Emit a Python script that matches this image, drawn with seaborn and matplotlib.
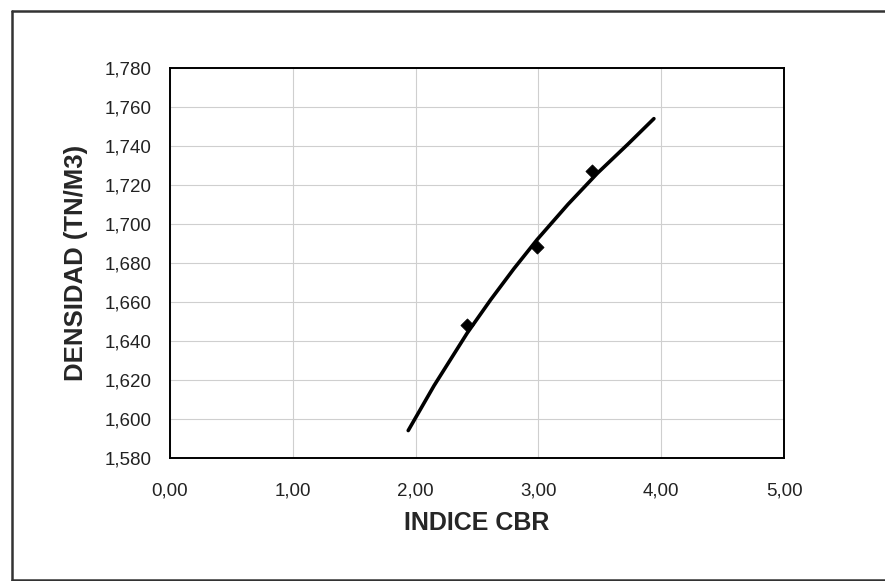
import matplotlib
matplotlib.use("Agg")
import matplotlib.pyplot as plt
from matplotlib.ticker import FuncFormatter, MultipleLocator
from matplotlib.lines import Line2D
import seaborn as sns
import pandas as pd

# ensayos CBR (puntos medidos)
cbr_puntos = [2.42, 2.99, 3.44]
densidad_puntos = [1.648, 1.688, 1.727]

# curva de ajuste
cbr_curva = [1.94, 2.15, 2.42, 2.61, 2.80, 2.99, 3.24, 3.48, 3.73, 3.94]
densidad_curva = [1.594, 1.617, 1.644, 1.661, 1.677, 1.692, 1.710, 1.726, 1.741, 1.754]

sns.set_style("white")
plt.rcParams['font.family'] = ['Liberation Sans', 'DejaVu Sans']

fig = plt.figure(figsize=(8.85, 5.81), dpi=100)
ax = fig.add_axes([0.192, 0.212, 0.694, 0.671])

df_curva = pd.DataFrame({"cbr": cbr_curva, "dens": densidad_curva})
df_puntos = pd.DataFrame({"cbr": cbr_puntos, "dens": densidad_puntos})

sns.lineplot(data=df_curva, x="cbr", y="dens", color="black", linewidth=2.6,
             sort=True, ax=ax, zorder=3)
sns.scatterplot(data=df_puntos, x="cbr", y="dens", marker="D", color="black",
                s=45, edgecolor="black", ax=ax, zorder=4)

ax.set_xlim(0, 5)
ax.set_ylim(1.58, 1.78)
ax.xaxis.set_major_locator(MultipleLocator(1))
ax.yaxis.set_major_locator(MultipleLocator(0.02))
ax.xaxis.set_major_formatter(FuncFormatter(lambda v, p: f"{v:.2f}".replace(".", ",")))
ax.yaxis.set_major_formatter(FuncFormatter(lambda v, p: f"{v:.3f}".replace(".", ",")))

ax.grid(True, color="#cfcfcf", linewidth=0.8)
for s in ax.spines.values():
    s.set_color("black")
    s.set_linewidth(1.4)
ax.tick_params(axis="both", direction="out", length=4, width=0.8, color="#888888",
               labelsize=13.5, labelcolor="#222222")
ax.tick_params(axis="y", pad=9)
ax.tick_params(axis="x", pad=14)

ax.set_xlabel("INDICE CBR", fontsize=18, fontweight="bold", labelpad=8)
ax.set_ylabel("DENSIDAD (TN/M3)", fontsize=18.5, fontweight="bold", labelpad=12)

# marco exterior (izquierda, arriba, abajo)
for xs, ys in [([0.014, 0.014], [0.002, 0.981]),
               ([0.014, 1.0], [0.981, 0.981]),
               ([0.014, 1.0], [0.002, 0.002])]:
    fig.add_artist(Line2D(xs, ys, transform=fig.transFigure, color="#333333", linewidth=1.8))

fig.savefig("out.png", dpi=100)
